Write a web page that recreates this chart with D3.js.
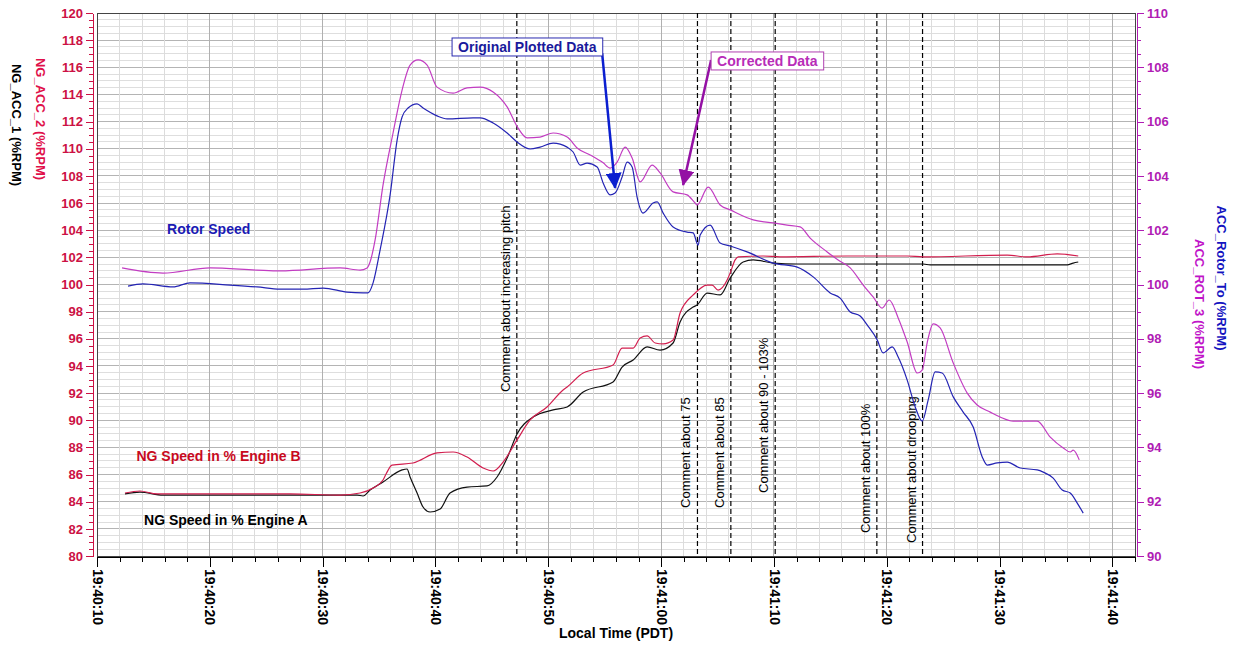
<!DOCTYPE html>
<html lang="en">
<head>
<meta charset="UTF-8">
<title>Rotor Speed and NG Speed</title>
<script src="https://cdnjs.cloudflare.com/ajax/libs/d3/7.8.5/d3.min.js"></script>
<style>
    body { margin: 0; background: #fff; }
    svg { display: block; font-family: Arial, "Liberation Sans", sans-serif; }
</style>
</head>
<body>
<div id="chart"></div>
<script>
// time = seconds after 19:40:10
const rotorT = [2.75,4.08,6.74,8.24,11.79,14.18,16.22,18.26,20.04,22.16,
    23.58,24.02,24.47,25.09,25.98,26.60,27.04,27.57,28.37,28.90,
    30.14,31.03,33.33,33.95,35.11,36.35,37.23,38.39,39.27,40.43,
    41.67,42.20,42.82,43.44,44.33,44.86,45.48,45.92,46.54,46.99,
    47.43,47.87,48.40,49.29,49.65,50.18,51.06,52.30,52.84,53.28,
    53.46,54.34,55.23,56.12,57.62,59.93,62.06,63.48,64.98,65.87,
    66.76,67.64,68.26,69.15,69.68,70.48,71.01,71.81,72.52,73.14,
    73.67,74.29,74.91,75.89,76.77,77.66,78.46,78.90,79.79,80.67,
    81.83,83.33,83.87,84.75,85.55,86.26,86.88,87.41];
const rotorV = [99.94,100.02,99.91,100.06,99.98,99.91,99.83,99.83,99.87,99.72,
    99.69,99.69,100.06,101.27,103.30,105.32,106.17,106.50,106.65,106.50,
    106.21,106.10,106.14,106.14,105.95,105.58,105.25,104.99,105.06,105.21,
    105.06,104.88,104.40,104.47,104.33,103.74,103.30,103.37,103.96,104.51,
    104.33,103.22,102.63,103.00,103.04,102.63,102.12,101.93,101.90,101.45,
    101.82,102.19,101.53,101.42,101.20,100.79,100.64,100.28,99.69,99.50,
    98.99,98.84,98.51,97.96,97.48,97.70,97.33,96.48,95.49,94.97,
    95.75,96.78,96.74,95.86,95.30,94.75,93.65,93.35,93.43,93.46,
    93.24,93.17,93.09,92.87,92.43,92.32,91.95,91.58];

const rot3T = [2.22,5.85,10.02,14.18,16.22,21.54,23.32,23.94,24.20,24.65,
    25.35,26.24,27.04,27.75,28.46,29.26,30.14,31.56,32.80,33.95,
    35.11,36.35,37.32,38.12,39.27,40.43,41.67,42.55,43.71,44.86,
    45.48,46.10,46.81,47.43,48.14,49.20,49.91,51.06,52.30,53.01,
    53.19,54.17,55.23,56.12,58.16,59.93,61.17,62.32,63.21,64.72,
    65.69,66.76,67.91,68.79,69.59,70.21,71.01,71.81,72.70,73.14,
    73.58,74.11,74.73,75.89,77.13,78.01,79.17,80.05,81.21,83.33,
    84.49,85.64,86.26,86.52,87.06];
const rot3V = [100.61,100.42,100.61,100.53,100.50,100.61,100.53,100.61,100.83,101.64,
    103.66,105.58,107.16,108.08,108.27,108.08,107.27,107.05,107.24,107.27,
    107.09,106.54,105.76,105.40,105.43,105.58,105.43,105.03,104.77,104.48,
    104.29,104.51,105.06,104.66,103.78,104.40,104.11,103.41,103.30,103.00,
    102.93,103.59,102.93,102.75,102.38,102.27,102.19,102.12,101.71,101.20,
    100.90,100.61,99.98,99.54,99.13,99.43,98.77,97.88,96.74,96.85,
    97.85,98.55,98.40,97.11,96.00,95.56,95.30,95.12,94.97,94.97,
    94.38,93.98,93.83,93.90,93.54];

const ng2T = [2.48,3.81,5.32,11.17,17.11,21.54,23.32,24.47,25.35,25.62,
    26.15,28.01,30.14,31.56,32.80,34.22,35.11,35.99,37.23,38.39,
    39.89,41.31,41.67,43.09,45.74,46.54,47.52,48.14,48.76,49.47,
    50.18,51.06,51.68,52.84,54.08,54.52,55.05,55.85,56.12,56.56,
    56.83,59.04,60.55,66.49,69.41,71.81,73.23,80.67,82.45,85.11,
    86.97];
const ng2V = [84.64,84.79,84.57,84.57,84.57,84.49,84.64,85.01,85.60,86.04,
    86.70,86.85,87.59,87.66,87.29,86.48,86.26,86.92,88.55,90.02,
    90.98,92.23,92.45,93.48,94.07,95.32,95.32,96.06,96.21,95.69,
    95.62,95.91,97.90,99.23,99.96,99.96,99.59,100.33,100.85,101.81,
    102.03,102.10,102.03,102.10,102.10,102.10,102.03,102.17,102.03,102.25,
    102.10];

const ng1T = [2.48,3.81,5.85,14.18,23.05,23.58,24.20,25.35,27.04,27.48,
    27.75,28.37,28.90,29.52,30.41,31.29,32.80,34.57,35.46,36.35,
    37.23,38.65,40.43,41.67,43.09,45.74,46.54,47.52,48.76,49.91,
    51.06,51.68,52.84,53.19,54.08,55.23,56.12,57.27,58.16,59.93,
    62.06,65.87,73.23,73.85,85.11,85.99,86.52,86.97];
const ng1V = [84.57,84.71,84.49,84.49,84.49,84.42,84.86,85.45,86.34,86.41,
    85.82,84.64,83.61,83.24,83.46,84.64,85.08,85.16,85.82,87.22,
    88.99,90.24,90.76,90.98,92.08,92.82,93.92,94.44,95.40,95.17,
    95.69,97.24,98.34,98.49,99.37,99.23,100.48,101.66,101.81,101.58,
    101.51,101.51,101.51,101.44,101.44,101.44,101.58,101.66];

// comment markers
const commentT = [37.21, 53.22, 56.18, 60.11, 69.12, 73.17];
const commentText = ["Comment about increasing pitch", "Comment about 75", "Comment about 85",
    "Comment about 90 - 103%", "Comment about 100%", "Comment about drooping"];
const commentAt = [92.08, 83.54, 83.54, 84.64, 81.69, 80.96]; // where the text starts, left axis units

const leftTicks = d3.range(80, 121, 2);
const rightTicks = d3.range(90, 111, 2);
const timeTicks = d3.range(0, 91, 10);

const W = 1241, H = 648;
const m = {left: 97, right: 1135, top: 13, bottom: 556};

const base = new Date(2000, 0, 1, 19, 40, 10);
const at = s => new Date(base.getTime() + s * 1000);

const x = d3.scaleTime().domain([at(0), at(92)]).range([m.left, m.right]);
const yL = d3.scaleLinear().domain([80, 120]).range([m.bottom, m.top]);
const yR = d3.scaleLinear().domain([90, 110]).range([m.bottom, m.top]);

const svg = d3.select("#chart").append("svg")
    .attr("width", W).attr("height", H);

// grid
const grid = svg.append("g").attr("shape-rendering", "crispEdges");
grid.selectAll(".h").data(d3.range(80, 120.01, 0.5)).join("line")
    .attr("x1", m.left).attr("x2", m.right)
    .attr("y1", d => yL(d)).attr("y2", d => yL(d))
    .attr("stroke", d => d % 2 === 0 ? "#b4b4b4" : "#dedede");
grid.selectAll(".v").data(d3.range(0, 92.1, 2)).join("line")
    .attr("x1", d => x(at(d))).attr("x2", d => x(at(d)))
    .attr("y1", m.top).attr("y2", m.bottom)
    .attr("stroke", d => d % 10 === 0 ? "#b0b0b0" : "#dcdcdc");

svg.append("rect")
    .attr("x", m.left).attr("y", m.top)
    .attr("width", m.right - m.left).attr("height", m.bottom - m.top)
    .attr("fill", "none").attr("stroke", "#444").attr("shape-rendering", "crispEdges");

// axes
function styleAxis(g, color, size) {
    g.selectAll("path, line").attr("stroke", color).attr("shape-rendering", "crispEdges");
    g.selectAll("text").attr("fill", color).attr("font-size", size)
        .attr("font-weight", "bold").attr("font-family", "Arial, 'Liberation Sans', sans-serif");
}

const leftColor = "#cc1144";
svg.append("g").attr("transform", `translate(${m.left - 4},0)`)
    .call(d3.axisLeft(yL).tickValues(d3.range(80, 120.1, 0.5)).tickSize(4).tickSizeOuter(0).tickFormat(""))
    .call(g => styleAxis(g, leftColor, 13));
svg.append("g").attr("transform", `translate(${m.left - 4},0)`)
    .call(d3.axisLeft(yL).tickValues(leftTicks).tickSize(7).tickSizeOuter(0).tickPadding(3))
    .call(g => styleAxis(g, leftColor, 13));

const rightColor = "#b01cb4";
svg.append("g").attr("transform", `translate(${m.right + 2},0)`)
    .call(d3.axisRight(yR).tickValues(d3.range(90, 110.1, 0.5)).tickSize(4).tickSizeOuter(0).tickFormat(""))
    .call(g => styleAxis(g, rightColor, 13));
svg.append("g").attr("transform", `translate(${m.right + 2},0)`)
    .call(d3.axisRight(yR).tickValues(rightTicks).tickSize(7).tickSizeOuter(0).tickPadding(3))
    .call(g => styleAxis(g, rightColor, 13));

svg.append("g").attr("transform", `translate(0,${m.bottom + 1})`)
    .call(d3.axisBottom(x).tickValues(d3.range(0, 92.1, 2).map(at)).tickSize(5).tickSizeOuter(0).tickFormat(""))
    .call(g => styleAxis(g, "#000", 14));
svg.append("g").attr("transform", `translate(0,${m.bottom + 1})`)
    .call(d3.axisBottom(x).tickValues(timeTicks.map(at)).tickSize(10).tickSizeOuter(0)
        .tickFormat(d3.timeFormat("%H:%M:%S")))
    .call(g => styleAxis(g, "#000", 14))
    .call(g => g.selectAll("text")
        .attr("transform", "rotate(90)")
        .attr("text-anchor", "start")
        .attr("x", 12).attr("y", 0).attr("dy", "0.35em"));

// axis titles
function vTitle(txt, cx, cy, color, angle) {
    svg.append("text")
        .attr("transform", `translate(${cx},${cy}) rotate(${angle})`)
        .attr("text-anchor", "middle").attr("dy", "0.35em")
        .attr("font-size", 13).attr("font-weight", "bold")
        .attr("fill", color).text(txt);
}
vTitle("NG_ACC_1 (%RPM)", 17, 125, "#000", 90);
vTitle("NG_ACC_2 (%RPM)", 41, 119, "#e0104a", 90);
vTitle("ACC_Rotor_To (%RPM)", 1222, 278, "#1414c0", 90);
vTitle("ACC_ROT_3 (%RPM)", 1200, 304, "#c014c8", 90);

svg.append("text")
    .attr("x", (m.left + m.right) / 2).attr("y", 638)
    .attr("text-anchor", "middle")
    .attr("font-size", 14).attr("font-weight", "bold")
    .text("Local Time (PDT)");

// comment lines
const cg = svg.append("g");
commentT.forEach((t, i) => {
    const cx = x(at(t));
    cg.append("line")
        .attr("x1", cx).attr("x2", cx).attr("y1", m.top).attr("y2", m.bottom)
        .attr("stroke", "#000").attr("stroke-width", 1.2).attr("stroke-dasharray", "5,3");
    cg.append("text")
        .attr("transform", `translate(${cx - 7},${yL(commentAt[i])}) rotate(-90)`)
        .attr("font-size", 13).attr("fill", "#000")
        .text(commentText[i]);
});

// series
function drawSeries(ts, vs, y, color) {
    const pts = ts.map((t, i) => [t, vs[i]]);
    svg.append("path")
        .datum(pts)
        .attr("fill", "none").attr("stroke", color).attr("stroke-width", 1.2)
        .attr("d", d3.line().x(d => x(at(d[0]))).y(d => y(d[1])).curve(d3.curveMonotoneX));
}
drawSeries(ng1T, ng1V, yL, "#111");
drawSeries(ng2T, ng2V, yL, "#d21e4e");
drawSeries(rot3T, rot3V, yR, "#c23cc2");
drawSeries(rotorT, rotorV, yR, "#2424b4");

// in-plot labels
const labels = [
    {t: 6.21, v: 103.72, text: "Rotor Speed", color: "#1a1ab4"},
    {t: 3.5, v: 87.0, text: "NG Speed in % Engine B", color: "#c80a1e"},
    {t: 4.17, v: 82.28, text: "NG Speed in % Engine A", color: "#000"}
];
svg.append("g").selectAll("text").data(labels).join("text")
    .attr("x", d => x(at(d.t))).attr("y", d => yL(d.v))
    .attr("font-size", 14).attr("font-weight", "bold")
    .attr("fill", d => d.color).text(d => d.text);

// callouts
const defs = svg.append("defs");
function marker(id, color) {
    defs.append("marker").attr("id", id)
        .attr("viewBox", "0 0 16 16").attr("refX", 15).attr("refY", 8)
        .attr("markerWidth", 16).attr("markerHeight", 16)
        .attr("markerUnits", "userSpaceOnUse").attr("orient", "auto")
        .append("path").attr("d", "M0,0L16,8L0,16Z").attr("fill", color);
}
marker("arrBlue", "#0b1fd0");
marker("arrPurple", "#9410a4");

const callouts = [
    {text: "Original Plotted Data", t: 31.47, v: 118.16, color: "#1a1a9c", border: "#2a2ab0",
     from: [44.77, 117.05], to: [45.92, 107.11], arrow: "#0b1fd0", mk: "arrBlue"},
    {text: "Corrected Data", t: 54.43, v: 117.13, color: "#b82cb8", border: "#b040b0",
     from: [54.43, 116.54], to: [51.95, 107.33], arrow: "#9410a4", mk: "arrPurple"}
];
callouts.forEach(c => {
    svg.append("line")
        .attr("x1", x(at(c.from[0]))).attr("y1", yL(c.from[1]))
        .attr("x2", x(at(c.to[0]))).attr("y2", yL(c.to[1]))
        .attr("stroke", c.arrow).attr("stroke-width", 2.5)
        .attr("marker-end", `url(#${c.mk})`);
    const bx = x(at(c.t)), by = yL(c.v);
    const rect = svg.append("rect").attr("fill", "#fff").attr("stroke", c.border);
    const txt = svg.append("text")
        .attr("x", bx + 6).attr("y", by + 14)
        .attr("font-size", 14).attr("font-weight", "bold")
        .attr("fill", c.color).text(c.text);
    const bb = txt.node().getBBox();
    rect.attr("x", bx).attr("y", by)
        .attr("width", bb.width + 12).attr("height", 18);
});
</script>
</body>
</html>
